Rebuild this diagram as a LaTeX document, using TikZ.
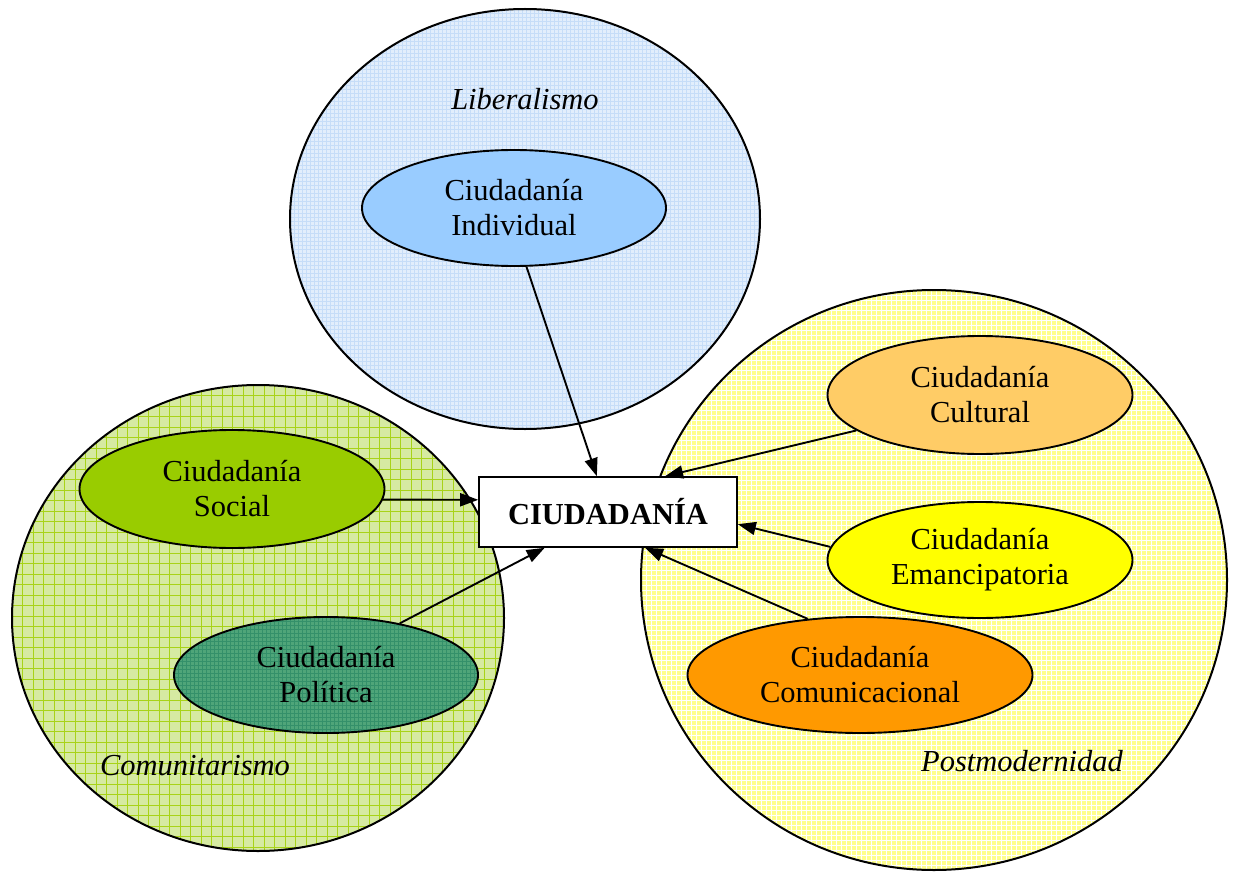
\documentclass[tikz,border=0pt]{standalone}
\usepackage{fontspec}
\setmainfont{Liberation Serif}
\usetikzlibrary{shapes.geometric,arrows.meta,calc}
\definecolor{bluebg}{HTML}{E2EEFC}
\definecolor{bluegrid}{HTML}{C6DDF8}
\definecolor{greenbg}{HTML}{D6EAA2}
\definecolor{greengrid}{HTML}{A8D318}
\definecolor{yellowbg}{HTML}{FFFF8C}
\definecolor{polbg}{HTML}{4FA579}
\definecolor{polgrid}{HTML}{34906A}
\definecolor{socfill}{HTML}{99CC00}
\definecolor{indfill}{HTML}{99CCFF}
\definecolor{culfill}{HTML}{FFCC66}
\definecolor{emafill}{HTML}{FFFF00}
\definecolor{comfill}{HTML}{FF9900}
\tikzset{
  txt/.style={font=\fontsize{30.5}{35}\selectfont, align=center},
  lbl/.style={font=\fontsize{30.5}{35}\selectfont\itshape},
  inner/.style={txt, ellipse, draw=black, line width=1.9pt, inner sep=0pt},
  conn/.style={line width=1.9pt, -{Triangle[length=18pt,width=13pt]}},
  outline/.style={draw=black, line width=2pt},
}
\begin{document}
\begin{tikzpicture}[x=1pt,y=-1pt]
\useasboundingbox (0,0) rectangle (1237,872);
% Liberalismo circle
\begin{scope}
  \clip (525,219) ellipse [x radius=235, y radius=210];
  \fill[bluebg] (290,9) rectangle (760,429);
  \foreach \x in {290,294,...,760} \draw[bluegrid, line width=0.6pt] (\x,9) -- (\x,429);
  \foreach \y in {9,13,...,429} \draw[bluegrid, line width=0.6pt] (290,\y) -- (760,\y);
\end{scope}
\draw[outline] (525,219) ellipse [x radius=235, y radius=210];
% Comunitarismo circle
\begin{scope}
  \clip (258,618) ellipse [x radius=246, y radius=233];
  \fill[greenbg] (12,385) rectangle (504,851);
  \foreach \x in {12,22.5,...,504} \draw[greengrid, line width=1pt] (\x,385) -- (\x,851);
  \foreach \y in {385,395.5,...,851} \draw[greengrid, line width=1pt] (12,\y) -- (504,\y);
\end{scope}
\draw[outline] (258,618) ellipse [x radius=246, y radius=233];
% Postmodernidad circle
\begin{scope}
  \clip (934,580) ellipse [x radius=293, y radius=290];
  \fill[yellowbg] (641,290) rectangle (1227,870);
  \foreach \x in {641,646,...,1227} \draw[white, line width=0.7pt] (\x,290) -- (\x,870);
  \foreach \y in {290,295,...,870} \draw[white, line width=0.7pt] (641,\y) -- (1227,\y);
\end{scope}
\draw[outline] (934,580) ellipse [x radius=293, y radius=290];

% labels
\node[lbl] (lib) at (525,99) {Liberalismo};
\node[lbl] (comu) at (195,766) {Comunitarismo};
\node[lbl] (post) at (1022,761) {Postmodernidad};

% inner ellipses
\node[inner, fill=indfill, minimum width=304, minimum height=116] (ind) at (514,208) {Ciudadanía\\Individual};
\node[inner, fill=socfill, minimum width=305, minimum height=118] (soc) at (232,489) {Ciudadanía\\Social};
\begin{scope}
  \clip (326,675) ellipse [x radius=152, y radius=58];
  \fill[polbg] (174,617) rectangle (478,733);
  \foreach \x in {174,178,...,478} \draw[polgrid, line width=0.6pt] (\x,617) -- (\x,733);
  \foreach \y in {617,621,...,733} \draw[polgrid, line width=0.6pt] (174,\y) -- (478,\y);
\end{scope}
\node[inner, minimum width=304, minimum height=116] (pol) at (326,675) {Ciudadanía\\Política};
\node[inner, fill=culfill, minimum width=305, minimum height=118] (cul) at (980,395) {Ciudadanía\\Cultural};
\node[inner, fill=emafill, minimum width=305, minimum height=116] (ema) at (980,560) {Ciudadanía\\Emancipatoria};
\node[inner, fill=comfill, minimum width=345, minimum height=116] (com) at (860,675) {Ciudadanía\\Comunicacional};

% central box
\node[draw=black, fill=white, line width=1.6pt, minimum width=258, minimum height=70, inner sep=0pt,
      font=\fontsize{30.5}{35}\selectfont\bfseries] (box) at (608,512) {CIUDADANÍA};

% connectors
\draw[conn] (ind.-78) -- ($(box.north west)!0.457!(box.north east)$);
\draw[conn] (soc.-4) -- ($(box.north west)!0.33!(box.south west)$);
\draw[conn] (pol.35) -- ($(box.south west)!0.256!(box.south east)$);
\draw[conn] (cul.196) -- ($(box.north west)!0.72!(box.north east)$);
\draw[conn] (ema.175) -- ($(box.north east)!0.67!(box.south east)$);
\draw[conn] (com.133) -- ($(box.south west)!0.643!(box.south east)$);
\end{tikzpicture}
\end{document}
